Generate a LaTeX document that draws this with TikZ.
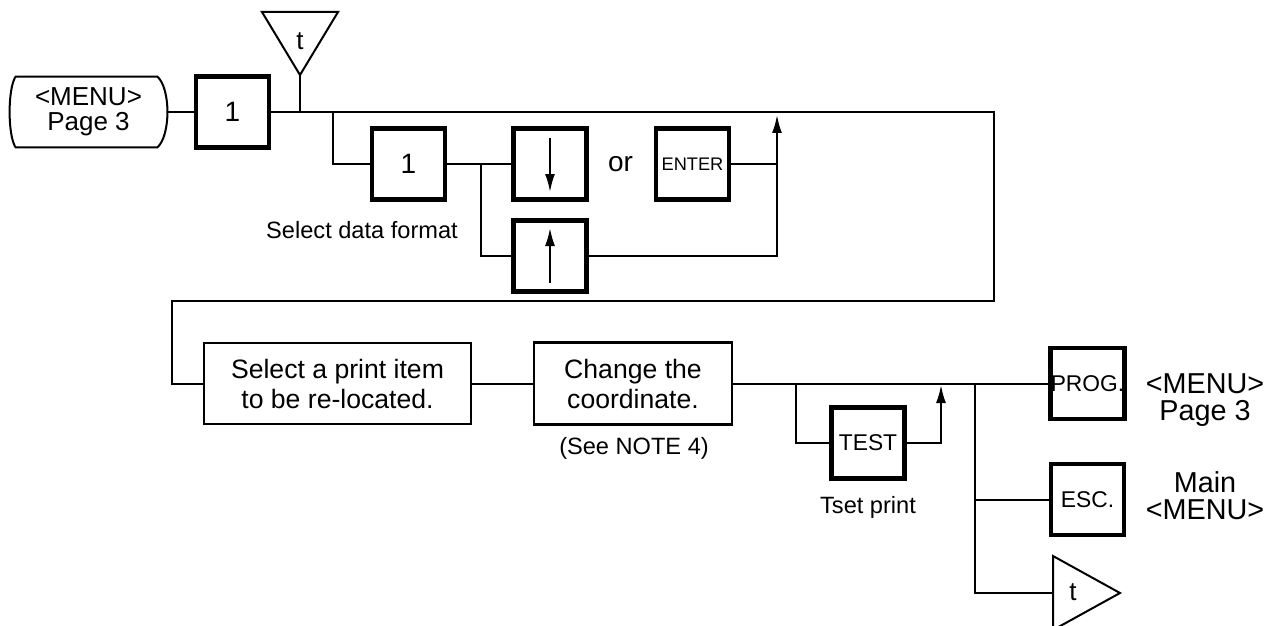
\documentclass[tikz,border=0pt]{standalone}
\usepackage{fontspec}
\setmainfont{Liberation Sans}
\usetikzlibrary{arrows.meta,positioning,calc}

\tikzset{
  link/.style={line width=1pt},
  tip/.style={link, -{Latex[length=9pt,width=5pt]}},
  key/.style={draw, line width=2.4pt, minimum width=36.5pt, minimum height=35.5pt, inner sep=0pt},
  stepbox/.style={draw, line width=1.3pt, align=center, inner sep=0pt, font=\fontsize{13.3}{15}\selectfont},
  lbl/.style={font=\fontsize{11.8}{14}\selectfont},
  menutxt/.style={align=center, inner sep=0pt, font=\fontsize{14.4}{13.5}\selectfont},
}

\begin{document}
\begin{tikzpicture}[x=0.5pt, y=-0.5pt]
        \useasboundingbox (0,0) rectangle (1279,626);

        % Start: menu page 3
        \node (menuA) [menutxt, font=\fontsize{13}{12.5}\selectfont, minimum width=78.5pt, minimum height=35pt] at (88.5,112) {<MENU>\\Page 3};
        \draw[link] ([xshift=3pt]menuA.north west) -- ([xshift=-5pt]menuA.north east)
            .. controls +(6.7pt,-6pt) and +(6.7pt,6pt) .. ([xshift=-5pt]menuA.south east)
            -- ([xshift=3pt]menuA.south west)
            .. controls +(-4pt,6pt) and +(-4pt,-6pt) .. cycle;
        \node (key1) [key, font=\fontsize{14}{16}\selectfont] at (232.5,112) {1};
        \draw[link] (menuA) -- (key1);

        % Top t marker
        \coordinate (tTopTip) at (300,75);
        \draw[link] (262,12) -- (338,12) -- (tTopTip) -- cycle;
        \node (tTop) [lbl, font=\fontsize{13}{14}\selectfont] at (300,41) {t};
        \draw[link] (tTopTip) -- (tTopTip |- key1.east);

        % Data format loop
        \coordinate (br1) at (333,112);
        \node (key1b) [key, font=\fontsize{14}{16}\selectfont] at (408.5,164) {1};
        \node (lblFmt) [lbl] at (362,230) {Select data format};
        \node (keyDn) [key] at (550,164) {};
        \node (keyUp) [key] at (550,256) {};
        \draw[tip] ([yshift=13pt]keyDn.center) -- ([yshift=-14pt]keyDn.center);
        \draw[tip] ([yshift=-13.5pt]keyUp.center) -- ([yshift=14pt]keyUp.center);
        \node (orTxt) [font=\fontsize{14}{16}\selectfont] at (620.5,164) {or};
        \node (keyEnt) [key, font=\fontsize{9.1}{11}\selectfont] at (692.5,164) {ENTER};
        \coordinate (arTop) at (777,115);
        \coordinate (br2) at (481,164);
        \draw[link] (br1) |- (key1b.west);
        \draw[link] (key1b) -- (keyDn);
        \draw[link] (br2) |- (keyUp.west);
        \draw[link] (keyEnt.east) -- (keyEnt.east -| arTop);
        \draw[tip] (keyUp.east) -| (arTop);

        % Print item steps
        \node (selItem) [stepbox, minimum width=133.5pt, minimum height=40.5pt] at (337.5,383.5) {Select a print item\\to be re-located.};
        \node (chgCoord) [stepbox, minimum width=99pt, minimum height=41pt] at (633,383.5) {Change the\\coordinate.};
        \node (lblNote) [lbl] at (634,448) {(See NOTE 4)};
        \draw[link] (key1.east) -- (994,112) |- (172,301) |- (selItem.west);
        \draw[link] (selItem) -- (chgCoord);

        % Test print
        \coordinate (br3) at (796,383.5);
        \coordinate (arTest) at (941,385);
        \node (keyTest) [key, font=\fontsize{11.4}{13}\selectfont] at (868,443) {TEST};
        \node (lblTset) [lbl] at (868,507) {Tset print};
        \draw[link] (br3) |- (keyTest.west);
        \draw[tip] (keyTest.east) -| (arTest);

        % Exits
        \node (keyProg) [key, font=\fontsize{11.4}{13}\selectfont] at (1087.5,383.5) {PROG.};
        \node (keyEsc) [key, font=\fontsize{11.4}{13}\selectfont] at (1087.5,499.5) {ESC.};
        \node (menuB) [menutxt] at (1205,400) {<MENU>\\Page 3};
        \node (menuMain) [menutxt] at (1205,496) {Main\\<MENU>};
        \coordinate (br4) at (975,383.5);
        \coordinate (tBotL) at (1053,593);
        \draw[link] (1053,556) -- (1120,593) -- (1053,630) -- cycle;
        \node (tBot) [lbl, font=\fontsize{13}{14}\selectfont] at (1073,592) {t};
        \draw[link] (chgCoord) -- (keyProg);
        \draw[link] (br4) |- (keyEsc.west);
        \draw[link] (br4) |- (tBotL);
\end{tikzpicture}
\end{document}
